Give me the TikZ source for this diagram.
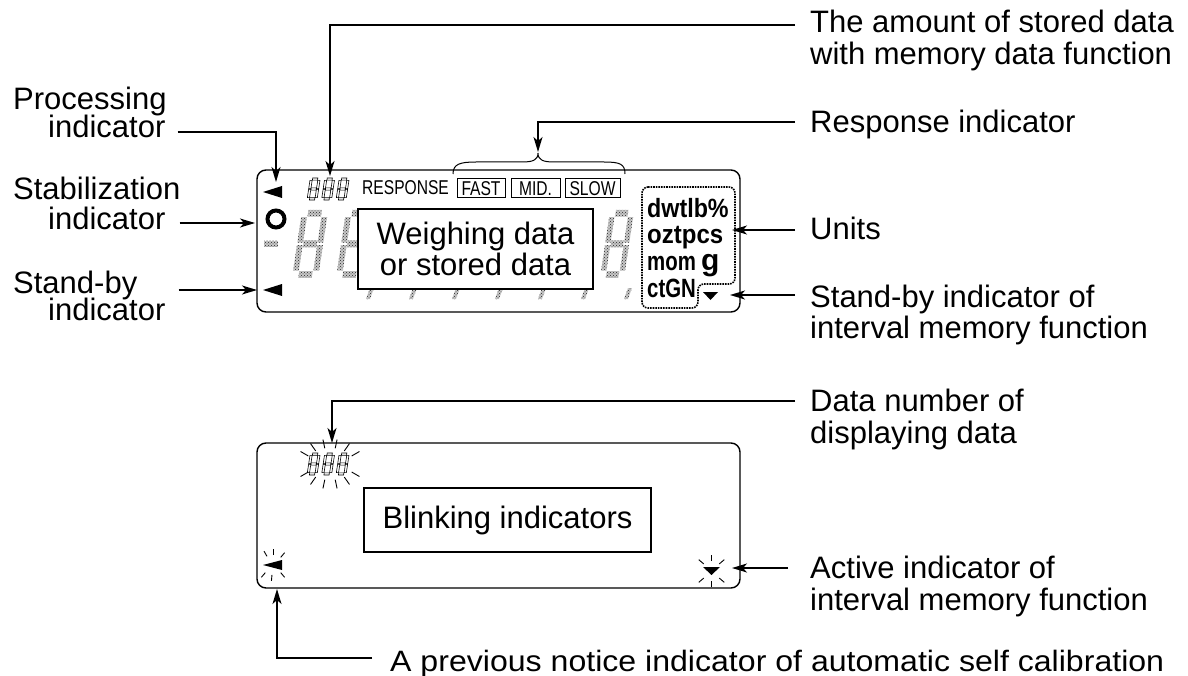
\documentclass[tikz,border=0pt]{standalone}
\usepackage{fontspec}
\setmainfont{Liberation Sans}
\usetikzlibrary{arrows.meta,patterns,calc}
\newcommand{\lcdigit}[5]{%
 \begin{scope}[shift={(#2,#3)},xslant=0.15,xscale=#4,yscale=#5]
  \path[#1] (2.4,-22) rectangle (7.6,-19.8)
   (7.8,-19.6) rectangle (10,-11.4)
   (7.8,-10.6) rectangle (10,-2.4)
   (2.4,-2.2) rectangle (7.6,0)
   (0,-10.6) rectangle (2.2,-2.4)
   (0,-19.6) rectangle (2.2,-11.4)
   (2.4,-12.1) rectangle (7.6,-9.9);
 \end{scope}}
\begin{document}
\begin{tikzpicture}[x=1pt,y=-1pt,
  lbl/.style={font=\fontsize{31}{32}\selectfont, inner sep=0pt, anchor=base west},
  lead/.style={line width=1.3pt},
  arr/.style={lead,-{Stealth[length=15pt,width=9pt,inset=4pt]}},
  frame/.style={line width=1.4pt, rounded corners=9pt},
  stip/.style={fill=black!22, postaction={pattern=crosshatch dots, pattern color=black!85}},
  segout/.style={draw=black, line width=0.6pt},
  ray/.style={line width=0.9pt},
  unitf/.style={font=\fontsize{24}{24}\selectfont\bfseries, inner sep=0pt, anchor=base west, text height=19pt, text depth=3pt},
  small/.style={font=\fontsize{20}{20}\selectfont, inner sep=0pt},
  tbox/.style={draw, line width=1.4pt, fill=white, align=center, font=\fontsize{31}{31}\selectfont, inner sep=0pt}]
\useasboundingbox (0,0) rectangle (1188,676);

% ---------- labels ----------
\node[lbl] (procA) at (13,110) {Processing};
\node[lbl] (procB) at (48,138) {indicator};
\node[lbl] (stabA) at (13,200) {Stabilization};
\node[lbl] (stabB) at (48,230) {indicator};
\node[lbl] (sbA) at (13,293) {Stand-by};
\node[lbl] (sbB) at (48,320) {indicator};

\node[lbl] (amtA) at (810,33) {The amount of stored data};
\node[lbl] (amtB) at (810,65) {with memory data function};
\node[lbl] (resp) at (810,133) {Response indicator};
\node[lbl] (units) at (810,240) {Units};
\node[lbl] (sbiA) at (810,307) {Stand-by indicator of};
\node[lbl] (sbiB) at (810,338) {interval memory function};
\node[lbl] (dnA) at (810,411) {Data number of};
\node[lbl] (dnB) at (810,443) {displaying data};
\node[lbl] (actA) at (810,578) {Active indicator of};
\node[lbl] (actB) at (810,610) {interval memory function};
\node[lbl] (prev) at (390,671) {\scalebox{1.035}[0.95]{A previous notice indicator of automatic self calibration}};

% ---------- upper display ----------
\draw[frame] (257,170) rectangle (740,312);

% faint stippled digits
\lcdigit{stip}{292}{278}{2.6}{3.1}
\lcdigit{stip}{336}{278}{2.6}{3.1}
\lcdigit{stip}{600}{278}{2.4}{3.1}
\path[stip] (264,241) rectangle (278,247);
\foreach \x in {370,413,456,499,542,585,628}
  {\path[stip] (\x,288) -- (\x+4,288) -- (\x,299) -- (\x-4,299) -- cycle;}

% small segment 888
\foreach \x in {307,321.5,336} {\lcdigit{segout}{\x}{200}{1}{1}}

\node[small, anchor=base west] (respw) at (362,195) {\scalebox{0.78}[1]{RESPONSE}};
\node[small, draw, line width=1pt, minimum width=48pt, minimum height=19pt] (fast) at (481,188.5) {\scalebox{0.78}[1]{FAST}};
\node[small, draw, line width=1pt, minimum width=49pt, minimum height=19pt] (mid) at (535.5,188.5) {\scalebox{0.78}[1]{MID.}};
\node[small, draw, line width=1pt, minimum width=55pt, minimum height=19pt] (slow) at (592.5,188.5) {\scalebox{0.78}[1]{SLOW}};

% brace
\draw[line width=1pt] (453,174) .. controls (453,164) and (460,162) .. (476,162) -- (522,162)
  .. controls (533,162) and (538,160) .. (538,153)
  .. controls (538,160) and (543,162) .. (554,162) -- (604,162)
  .. controls (620,162) and (625,164) .. (625,174);

% indicators
\fill (263,192) -- (282,186) -- (282,198) -- cycle;
\draw[line width=4pt] (276,219) circle[radius=8.5pt];
\fill (263,290) -- (282,284) -- (282,296) -- cycle;
\fill (703,292) -- (718,292) -- (710.5,300) -- cycle;

\node[tbox, minimum width=235pt, minimum height=80pt] (weigh) at (475.5,249) {Weighing data\\or stored data};

% units
\draw[densely dotted, line width=1.6pt, rounded corners=6pt] (642,187) -- (735,187) -- (735,284) -- (698,284) -- (698,308) -- (642,308) -- cycle;
\node[unitf] (u1) at (647,218) {\scalebox{0.97}[1.1]{dwtlb\%}};
\node[unitf] (u2) at (647,244) {\scalebox{1}[1.1]{oztpcs}};
\node[unitf] (u3) at (647,270) {\scalebox{0.85}[1.1]{mom}};
\node[unitf, font=\fontsize{30}{30}\selectfont\bfseries, text height=15pt, text depth=6pt] (u4) at (701,271) {g};
\node[unitf] (u5) at (647,297) {\scalebox{0.85}[1.1]{ctGN}};

% ---------- lower display ----------
\draw[frame] (257,443) rectangle (740,588);
\foreach \x in {307,321.5,336} {\lcdigit{segout}{\x}{475}{1}{1}}
\coordinate (c888) at (330,464);
\foreach \a in {30,55,78,102,125,150,-30,-55,-78,-102,-125,-150}
  {\draw[ray] ($(c888)+(\a:25 and 16)$) -- ($(c888)+(\a:34 and 25)$);}
\node[tbox, minimum width=287pt, minimum height=64pt] (blink) at (507.5,520) {Blinking indicators};

\fill (263,565) -- (282,560) -- (282,570) -- cycle;
\coordinate (cl) at (273,565);
\foreach \a in {-120,-90,-50,130,95,50}
  {\draw[ray] ($(cl)+(\a:12 and 10)$) -- ($(cl)+(\a:18 and 16)$);}
\fill (703,567) -- (720,567) -- (711.5,575) -- cycle;
\coordinate (cv) at (711.5,571);
\foreach \a in {-135,-90,-45,135,90,45}
  {\draw[ray] ($(cv)+(\a:11 and 10)$) -- ($(cv)+(\a:18 and 16)$);}

% ---------- connectors ----------
\coordinate (t888) at (330,176);
\coordinate (tbr) at (538,152);
\coordinate (tproc) at (276,182);
\coordinate (tstab) at (255,223);
\coordinate (tsb) at (257,290);
\coordinate (tunit) at (732,230);
\coordinate (tsbi) at (730,295);
\coordinate (tdn) at (332,443);
\coordinate (tact) at (732,568);
\coordinate (tprev) at (277,589);

\draw[arr] ($(amtA.base west)+(-15,-8)$) -| (t888);
\draw[arr] ($(resp.base west)+(-15,-11)$) -| (tbr);
\draw[arr] ($(procB.base east)+(12,-6)$) -| (tproc);
\draw[arr] ($(stabB.base east)+(14,-7)$) -- (tstab);
\draw[arr] ($(sbB.base east)+(13,-30)$) -- (tsb);
\draw[arr] ($(units.base west)+(-15,-10)$) -- (tunit);
\draw[arr] ($(sbiA.base west)+(-15,-12)$) -- (tsbi);
\draw[arr] ($(dnA.base west)+(-15,-10)$) -| (tdn);
\draw[arr] ($(actA.base west)+(-22,-10)$) -- (tact);
\draw[arr] ($(prev.base west)+(-18,-13)$) -| (tprev);
\end{tikzpicture}
\end{document}
